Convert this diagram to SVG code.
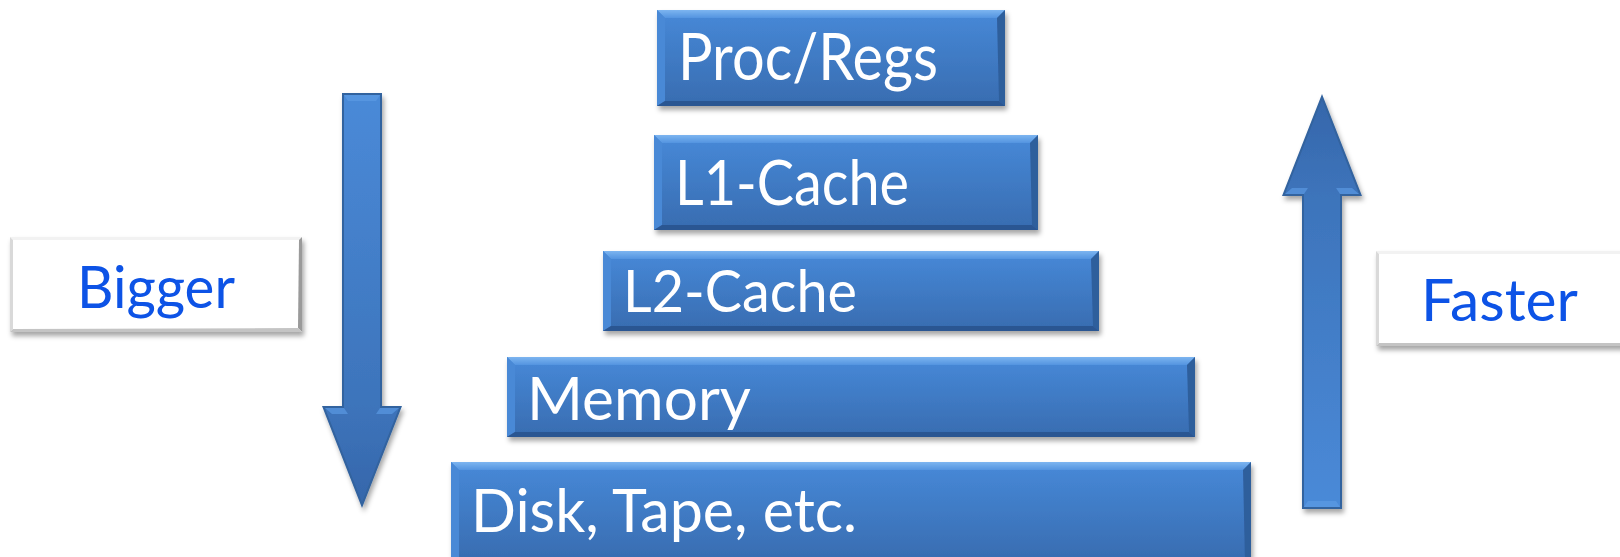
<svg xmlns="http://www.w3.org/2000/svg" width="1620" height="557" viewBox="0 0 1620 557">
  <defs>
    <style>
      .body { fill: url(#blueBody); }
      .bev-top { fill: url(#blueTop); }
      .bev-left { fill: #4a89d6; }
      .bev-right { fill: #2f5e9c; }
      .bev-bottom { fill: #2c5792; }
      .wbody { fill: #ffffff; }
      .wbev-top { fill: #f2f2f2; }
      .wbev-left { fill: #d9d9d9; }
      .wbev-right { fill: #9a9a9a; }
      .wbev-bottom { fill: #c4c4c4; }
      .label { font-family: Lato, "Open Sans", "Liberation Sans", sans-serif; fill: #ffffff; }
      .side { font-family: Lato, "Open Sans", "Liberation Sans", sans-serif; fill: #0b52e6; }
    </style>
    <linearGradient id="blueBody" x1="0" y1="0" x2="0" y2="1">
      <stop offset="0" stop-color="#4789d8"/>
      <stop offset="1" stop-color="#386cb0"/>
    </linearGradient>
    <linearGradient id="blueTop" x1="0" y1="0" x2="0" y2="1">
      <stop offset="0" stop-color="#7db5f0"/>
      <stop offset="1" stop-color="#5394e0"/>
    </linearGradient>
    <linearGradient id="arrowFill" x1="0" y1="0" x2="0" y2="415" gradientUnits="userSpaceOnUse">
      <stop offset="0" stop-color="#4a8ad8"/>
      <stop offset="0.75" stop-color="#3d74bb"/>
      <stop offset="1" stop-color="#3566aa"/>
    </linearGradient>
    <filter id="drop" x="-10%" y="-10%" width="125%" height="140%">
      <feGaussianBlur in="SourceAlpha" stdDeviation="2.5"/>
      <feOffset dx="2" dy="4" result="blur"/>
      <feFlood flood-color="#000000" flood-opacity="0.35"/>
      <feComposite in2="blur" operator="in" result="shadow"/>
      <feMerge>
        <feMergeNode in="shadow"/>
        <feMergeNode in="SourceGraphic"/>
      </feMerge>
    </filter>
    <!-- Block arrow pointing down, tail at origin -->
    <g id="blockArrow">
      <polygon points="-20,0 20,0 20,313 40,313 0,415 -40,313 -20,313" fill="#33639f"/>
      <polygon points="-18,2 18,2 18,315 37,315 0,409 -37,315 -18,315" fill="url(#arrowFill)"/>
      <polygon points="-18,2 18,2 14,8 -14,8" fill="#5a98e2" opacity="0.8"/>
      <polygon points="-37,315 -18,315 -14,321 -30,321" fill="#5a98e2" opacity="0.7"/>
      <polygon points="37,315 18,315 14,321 30,321" fill="#5a98e2" opacity="0.7"/>
    </g>
  </defs>

  <rect x="0" y="0" width="1620" height="557" fill="#ffffff"/>

  <!-- Memory hierarchy levels -->
  <g id="proc-regs" filter="url(#drop)">
    <rect class="body" x="657" y="10" width="348" height="96"/>
    <polygon class="bev-top" points="657,10 1005,10 997,18 665,18"/>
    <polygon class="bev-left" points="657,10 665,18 665,101 657,106"/>
    <polygon class="bev-right" points="1005,10 1005,106 999,101 997,18"/>
    <polygon class="bev-bottom" points="657,106 665,101 999,101 1005,106"/>
    <text class="label" x="678" y="80" font-size="66" textLength="260" lengthAdjust="spacingAndGlyphs">Proc/Regs</text>
  </g>

  <g id="l1-cache" filter="url(#drop)">
    <rect class="body" x="654" y="135" width="384" height="95"/>
    <polygon class="bev-top" points="654,135 1038,135 1030,143 662,143"/>
    <polygon class="bev-left" points="654,135 662,143 662,225 654,230"/>
    <polygon class="bev-right" points="1038,135 1038,230 1032,225 1030,143"/>
    <polygon class="bev-bottom" points="654,230 662,225 1032,225 1038,230"/>
    <text class="label" x="675" y="205" font-size="62" textLength="234" lengthAdjust="spacingAndGlyphs">L1-Cache</text>
  </g>

  <g id="l2-cache" filter="url(#drop)">
    <rect class="body" x="603" y="251" width="496" height="80"/>
    <polygon class="bev-top" points="603,251 1099,251 1091,259 611,259"/>
    <polygon class="bev-left" points="603,251 611,259 611,326 603,331"/>
    <polygon class="bev-right" points="1099,251 1099,331 1093,326 1091,259"/>
    <polygon class="bev-bottom" points="603,331 611,326 1093,326 1099,331"/>
    <text class="label" x="623" y="312" font-size="59" textLength="234" lengthAdjust="spacingAndGlyphs">L2-Cache</text>
  </g>

  <g id="memory" filter="url(#drop)">
    <rect class="body" x="507" y="357" width="688" height="80"/>
    <polygon class="bev-top" points="507,357 1195,357 1187,365 515,365"/>
    <polygon class="bev-left" points="507,357 515,365 515,432 507,437"/>
    <polygon class="bev-right" points="1195,357 1195,437 1189,432 1187,365"/>
    <polygon class="bev-bottom" points="507,437 515,432 1189,432 1195,437"/>
    <text class="label" x="527" y="420" font-size="60" textLength="224" lengthAdjust="spacingAndGlyphs">Memory</text>
  </g>

  <g id="disk-tape" filter="url(#drop)">
    <rect class="body" x="451" y="462" width="800" height="100"/>
    <polygon class="bev-top" points="451,462 1251,462 1243,470 459,470"/>
    <polygon class="bev-left" points="451,462 459,470 459,562 451,562"/>
    <polygon class="bev-right" points="1251,462 1251,562 1245,562 1243,470"/>
    <text class="label" x="471" y="532" font-size="60" textLength="386" lengthAdjust="spacingAndGlyphs">Disk, Tape, etc.</text>
  </g>

  <!-- Side captions -->
  <g id="bigger" filter="url(#drop)">
    <rect class="wbody" x="10" y="237" width="292" height="95"/>
    <polygon class="wbev-top" points="10,237 302,237 299,240 13,240"/>
    <polygon class="wbev-left" points="10,237 13,240 13,329 10,332"/>
    <polygon class="wbev-right" points="302,237 302,332 298,328 299,240"/>
    <polygon class="wbev-bottom" points="10,332 13,329 298,328 302,332"/>
    <text class="side" x="77" y="308" font-size="58" textLength="158" lengthAdjust="spacingAndGlyphs">Bigger</text>
  </g>

  <g id="faster" filter="url(#drop)">
    <rect class="wbody" x="1376" y="251" width="260" height="95"/>
    <polygon class="wbev-top" points="1376,251 1636,251 1636,254 1379,254"/>
    <polygon class="wbev-left" points="1376,251 1379,254 1379,343 1376,346"/>
    <polygon class="wbev-bottom" points="1376,346 1379,343 1636,343 1636,346"/>
    <text class="side" x="1421" y="321" font-size="58" textLength="157" lengthAdjust="spacingAndGlyphs">Faster</text>
  </g>

  <!-- Direction arrows -->
  <g id="arrows" filter="url(#drop)">
    <use href="#blockArrow" transform="translate(362,93)"/>
    <use href="#blockArrow" transform="translate(1322,509) rotate(180)"/>
  </g>
</svg>
